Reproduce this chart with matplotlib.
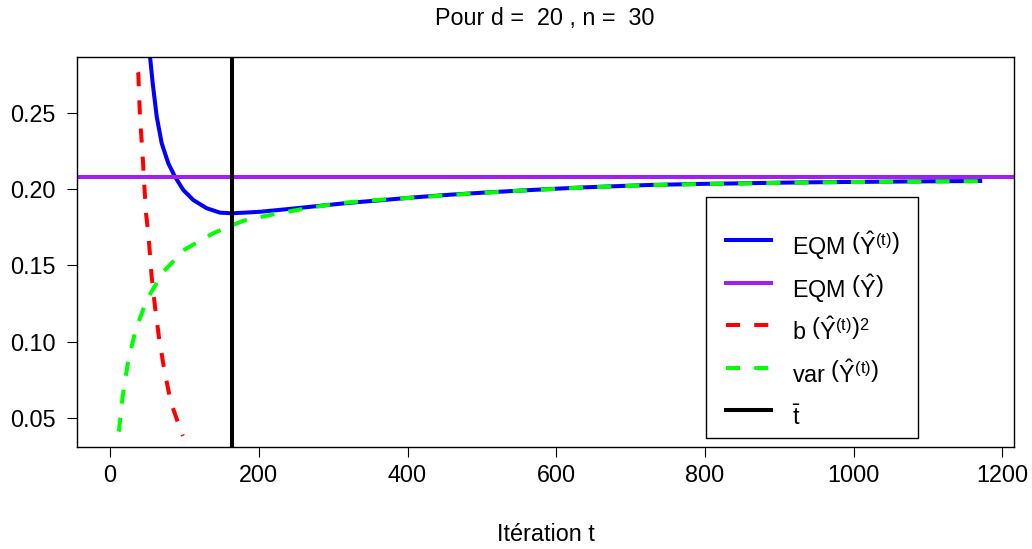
import matplotlib
matplotlib.use("Agg")
import matplotlib.pyplot as plt
from matplotlib.lines import Line2D
from matplotlib.patches import Rectangle

plt.rcParams["font.family"] = ["Liberation Sans", "DejaVu Sans"]
plt.rcParams["mathtext.fontset"] = "custom"
plt.rcParams["mathtext.rm"] = "Liberation Sans"
plt.rcParams["mathtext.it"] = "Liberation Sans"
plt.rcParams["mathtext.default"] = "regular"

# EQM of Y_hat^(t)
t_eqm = [50, 53.8, 57.4, 62.8, 69.5, 78.4, 87.4, 98.5, 112, 130, 148, 164,
         188, 202, 240, 278, 320, 367, 410, 457, 500, 547, 590, 636, 680,
         726, 793, 850, 900, 950, 1000, 1050, 1100, 1170]
eqm = [0.300, 0.2872, 0.2697, 0.2478, 0.2303, 0.2171, 0.2083, 0.1996,
       0.1930, 0.1876, 0.1847, 0.1843, 0.1849, 0.1853, 0.1871, 0.1890,
       0.1911, 0.1930, 0.1948, 0.1965, 0.1978, 0.1991, 0.2002, 0.2013,
       0.2021, 0.2029, 0.2036, 0.2040, 0.2044, 0.2047, 0.2049, 0.2051,
       0.2053, 0.2055]

# variance
t_var = [11.5, 12.1, 17, 24.6, 34.5, 49.3, 71.7, 100.8, 138.9, 179.2, 219.6,
         262, 305, 350, 410, 457, 500, 547, 590, 636, 680, 726, 793, 850,
         900, 950, 1000, 1050, 1100, 1170]
var = [0.0408, 0.0419, 0.0638, 0.0879, 0.1076, 0.1273, 0.1459, 0.1606,
       0.1712, 0.1794, 0.1836, 0.1874, 0.1907, 0.1928, 0.1946, 0.1963,
       0.1977, 0.1990, 0.2001, 0.2012, 0.2020, 0.2028, 0.2035, 0.2039,
       0.2043, 0.2046, 0.2048, 0.2050, 0.2052, 0.2054]

# squared bias
t_bias = [37.5, 38, 40.3, 43.4, 45.7, 48.4, 51.5, 56, 60.5, 66.3, 73, 81.6,
          96.4, 98]
bias2 = [0.2770, 0.2763, 0.2478, 0.2259, 0.2062, 0.1843, 0.1712, 0.1426,
         0.1229, 0.1010, 0.0813, 0.0605, 0.0397, 0.0380]

eqm_ref = 0.2081   # EQM of Y_hat
t_bar = 164

d, n = 20, 30

fs = 16.8
W, H = 1032, 549
fig = plt.figure(figsize=(W / 100, H / 100), dpi=100)
ax = fig.add_axes([76.7 / W, 1 - 446.7 / H, 937.6 / W, 390 / H])

lw = 2.9
dash = (0, (3.5, 3.5))
blue, purple, red, green = "#0000FF", "#A020F0", "#FF0000", "#00FF00"
ax.plot(t_eqm, eqm, color=blue, lw=lw)
ax.axhline(eqm_ref, color=purple, lw=lw)
ax.plot(t_bias, bias2, color=red, lw=lw, linestyle=dash)
ax.plot(t_var, var, color=green, lw=lw, linestyle=dash)
ax.axvline(t_bar, color="black", lw=lw)

ax.set_xlim(-44.8, 1215.9)
ax.set_ylim(0.0309, 0.2872)
ax.set_xticks([0, 200, 400, 600, 800, 1000, 1200])
ax.set_yticks([0.05, 0.10, 0.15, 0.20, 0.25])
ax.set_yticklabels(["0.05", "0.10", "0.15", "0.20", "0.25"])
ax.tick_params(axis="both", labelsize=fs, length=7, width=0.8, direction="out")
ax.tick_params(axis="y", pad=8)
ax.tick_params(axis="x", pad=5.5)
for s in ax.spines.values():
    s.set_linewidth(1)

ax.set_xlabel("Itération t", fontsize=fs)
ax.xaxis.set_label_coords(0.5, -0.196)
fig.text(545 / W, 1 - 25 / H, "Pour d =  %d , n =  %d" % (d, n),
         fontsize=fs, ha="center", va="baseline")

# legend drawn in figure pixels, like R's legend box
labels = [r"EQM $\left(\hat{Y}^{(t)}\right)$",
          r"EQM $\left(\hat{Y}\right)$",
          r"b $\left(\hat{Y}^{(t)}\right)^2$",
          r"var $\left(\hat{Y}^{(t)}\right)$",
          r"$\bar{t}$"]
colors = [blue, purple, red, green, "black"]
styles = ["-", "-", dash, dash, "-"]
rows = [240, 283, 325, 368, 410]

fig.add_artist(Rectangle((706 / W, 1 - 438 / H), 212 / W, 241 / H,
                         transform=fig.transFigure, fill=False,
                         edgecolor="black", lw=1))
for lab, c, ls, y in zip(labels, colors, styles, rows):
    fig.add_artist(Line2D([726 / W, 771 / W], [1 - y / H, 1 - y / H],
                          transform=fig.transFigure, color=c, lw=lw,
                          linestyle=ls))
    fig.text(792 / W, 1 - (y + 15) / H, lab, fontsize=fs,
             ha="left", va="baseline")

fig.savefig("out.png", dpi=100)
